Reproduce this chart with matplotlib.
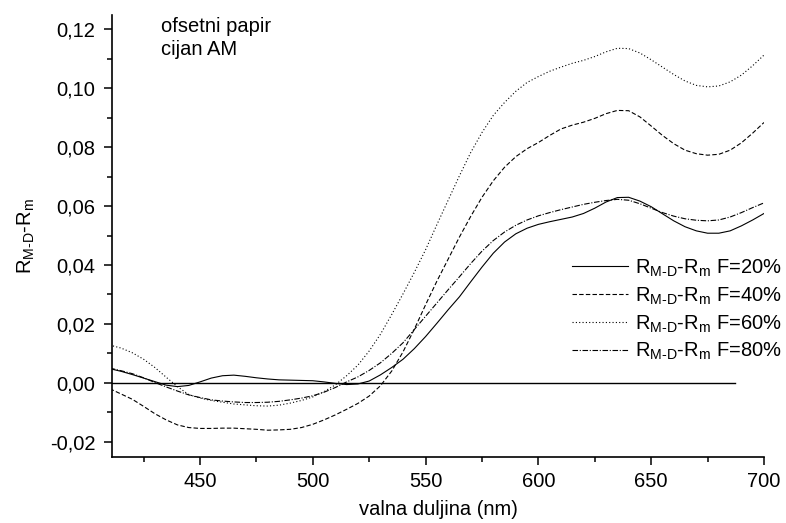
import matplotlib
matplotlib.use("Agg")
import matplotlib.pyplot as plt
import numpy as np
from matplotlib.ticker import MultipleLocator, FuncFormatter

# valna duljina (nm), korak 5 nm
wl = np.arange(410, 701, 5)

r20 = [0.0048, 0.0039, 0.0028, 0.0016, 0.0004, -0.0008, -0.0013, -0.0009, 0.0003, 0.0016,
       0.0024, 0.0026, 0.0022, 0.0017, 0.0013, 0.0010, 0.0009, 0.0008, 0.0007, 0.0003,
       -0.0002, -0.0006, -0.0004, 0.0006, 0.0027, 0.0052, 0.0080, 0.0116, 0.0157, 0.0202,
       0.0248, 0.0292, 0.0343, 0.0393, 0.0440, 0.0478, 0.0506, 0.0525, 0.0538, 0.0547,
       0.0555, 0.0563, 0.0575, 0.0593, 0.0614, 0.0629, 0.0630, 0.0617, 0.0598, 0.0574,
       0.0550, 0.0530, 0.0516, 0.0508, 0.0508, 0.0516, 0.0533, 0.0553, 0.0575]

r40 = [-0.0020, -0.0038, -0.0056, -0.0080, -0.0105, -0.0126, -0.0143, -0.0152, -0.0155, -0.0155,
       -0.0154, -0.0154, -0.0156, -0.0158, -0.0161, -0.0160, -0.0158, -0.0152, -0.0141, -0.0126,
       -0.0109, -0.0090, -0.0070, -0.0045, -0.0010, 0.0040, 0.0105, 0.0182, 0.0265, 0.0345,
       0.0420, 0.0495, 0.0565, 0.0630, 0.0686, 0.0732, 0.0768, 0.0795, 0.0816, 0.0840,
       0.0862, 0.0875, 0.0885, 0.0898, 0.0914, 0.0925, 0.0924, 0.0903, 0.0872, 0.0840,
       0.0812, 0.0790, 0.0778, 0.0773, 0.0776, 0.0790, 0.0815, 0.0848, 0.0884]

r60 = [0.0128, 0.0118, 0.0102, 0.0080, 0.0052, 0.0019, -0.0013, -0.0040, -0.0052, -0.0060,
       -0.0066, -0.0072, -0.0075, -0.0078, -0.0079, -0.0076, -0.0069, -0.0060, -0.0048, -0.0030,
       -0.0007, 0.0024, 0.0060, 0.0108, 0.0165, 0.0232, 0.0302, 0.0375, 0.0452, 0.0537,
       0.0620, 0.0703, 0.0782, 0.0850, 0.0908, 0.0952, 0.0990, 0.1020, 0.1040, 0.1058,
       0.1072, 0.1085, 0.1095, 0.1108, 0.1124, 0.1136, 0.1135, 0.1120, 0.1097, 0.1072,
       0.1047, 0.1025, 0.1010, 0.1005, 0.1008, 0.1022, 0.1045, 0.1077, 0.1113]

r80 = [0.0050, 0.0041, 0.0031, 0.0017, 0.0001, -0.0014, -0.0028, -0.0041, -0.0050, -0.0058,
       -0.0062, -0.0065, -0.0067, -0.0067, -0.0066, -0.0063, -0.0058, -0.0052, -0.0044, -0.0032,
       -0.0016, 0.0003, 0.0020, 0.0042, 0.0068, 0.0100, 0.0136, 0.0181, 0.0226, 0.0271,
       0.0316, 0.0360, 0.0405, 0.0447, 0.0483, 0.0512, 0.0535, 0.0553, 0.0567, 0.0578,
       0.0588, 0.0597, 0.0606, 0.0613, 0.0619, 0.0623, 0.0620, 0.0608, 0.0593, 0.0578,
       0.0566, 0.0557, 0.0552, 0.0550, 0.0553, 0.0563, 0.0578, 0.0595, 0.0611]

pokrivenost = ["20%", "40%", "60%", "80%"]
nulta_linija_x = [411, 687]

plt.rcParams["font.family"] = ["Liberation Sans", "DejaVu Sans"]
plt.rcParams["mathtext.fontset"] = "custom"
plt.rcParams["mathtext.rm"] = "Liberation Sans"
plt.rcParams["mathtext.it"] = "Liberation Sans"

FS = 14.5


def main():
    fig = plt.figure(figsize=(7.86, 5.23), dpi=100)
    ax = fig.add_axes([0.1425, 0.1262, 0.8295, 0.8451])

    stilovi = ["-", (0, (4, 2)), (0, (1, 2)), (0, (5, 1.5, 1, 1.5))]
    for r, f, ls in zip([r20, r40, r60, r80], pokrivenost, stilovi):
        lab = r"R$_{\text{M-D}}$-R$_{\text{m}}$ F=" + f
        ax.plot(wl, r, color="black", lw=0.8, linestyle=ls, label=lab)

    ax.plot(nulta_linija_x, [0, 0], color="black", lw=1.0)

    ax.set_xlim(411, 700)
    ax.set_ylim(-0.0252, 0.1249)
    ax.xaxis.set_major_locator(MultipleLocator(50))
    ax.xaxis.set_minor_locator(MultipleLocator(25))
    ax.yaxis.set_major_locator(MultipleLocator(0.02))
    ax.yaxis.set_minor_locator(MultipleLocator(0.01))
    ax.yaxis.set_major_formatter(FuncFormatter(lambda v, p: f"{v:.2f}".replace(".", ",")))

    for s in ["top", "right"]:
        ax.spines[s].set_visible(False)
    for s in ["left", "bottom"]:
        ax.spines[s].set_linewidth(1.2)
    ax.tick_params(which="major", direction="out", length=6, width=1.1, labelsize=FS, pad=5)
    ax.tick_params(axis="y", which="major", pad=6)
    ax.tick_params(which="minor", direction="out", length=3.5, width=1.1)

    ax.set_xlabel("valna duljina (nm)", fontsize=FS, labelpad=6)
    ax.set_ylabel(r"R$_{\text{M-D}}$-R$_{\text{m}}$", fontsize=FS, labelpad=9)

    ax.text(0.075, 0.995, "ofsetni papir\ncijan AM", transform=ax.transAxes,
            fontsize=FS, va="top", ha="left", linespacing=1.25)

    ax.legend(loc="upper right", bbox_to_anchor=(1.04, 0.47), frameon=False,
              fontsize=FS, handlelength=2.8, handletextpad=0.35, labelspacing=0.33,
              borderaxespad=0)

    fig.savefig("out.png", dpi=100)


if __name__ == "__main__":
    main()
